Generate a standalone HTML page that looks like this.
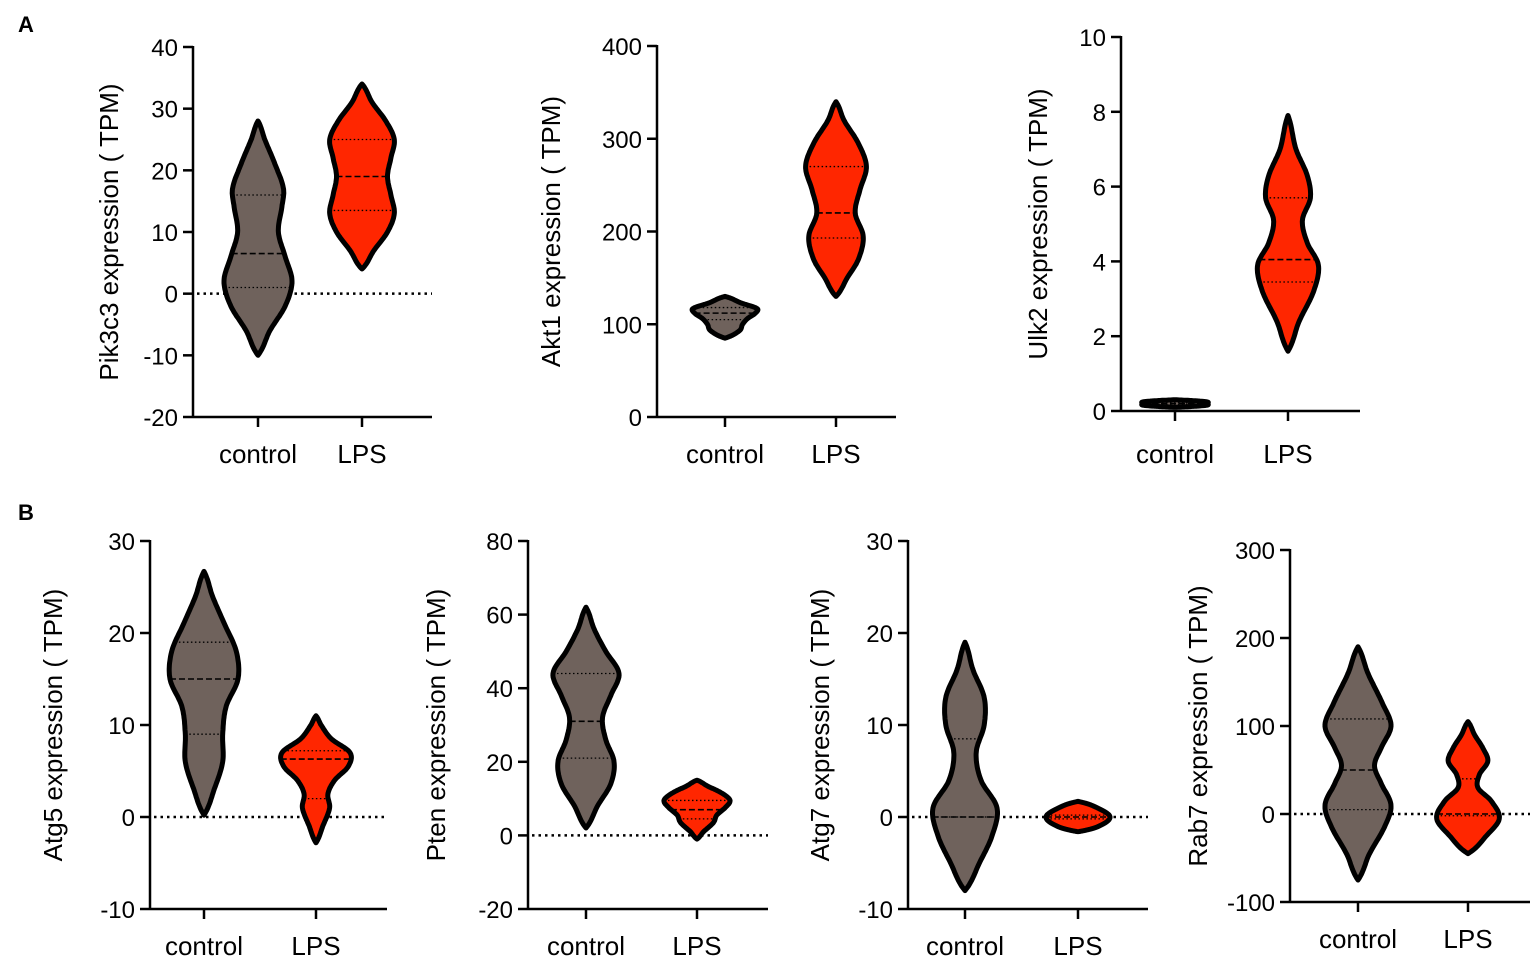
<!DOCTYPE html>
<html><head><meta charset="utf-8">
<style>
body{margin:0;background:#fff;}
svg{display:block;font-family:"Liberation Sans",Arial,sans-serif;}
</style></head>
<body>
<svg id="fig" width="1535" height="966" viewBox="0 0 1535 966">
<text x="18" y="32" font-size="22" font-weight="bold">A</text>
<text x="18" y="520" font-size="22" font-weight="bold">B</text>
</svg>
<script>
// categories
const categories = ["control", "LPS"];
// y-axis titles
const titles = ["Pik3c3 expression ( TPM)", "Akt1 expression ( TPM)", "Ulk2 expression ( TPM)",
  "Atg5 expression ( TPM)", "Pten expression ( TPM)", "Atg7 expression ( TPM)", "Rab7 expression ( TPM)"];
// tick labels
const ticks0 = [-20, -10, 0, 10, 20, 30, 40];
const ticks1 = [0, 100, 200, 300, 400];
const ticks2 = [0, 2, 4, 6, 8, 10];
const ticks3 = [-10, 0, 10, 20, 30];
const ticks4 = [-20, 0, 20, 40, 60, 80];
const ticks5 = [-10, 0, 10, 20, 30];
const ticks6 = [-100, 0, 100, 200, 300];
// violin profiles: value levels and relative density (0..1)
const v0cVals = [-10, -6, -2, 2, 6, 10, 14, 17, 21, 25, 28];
const v0cDens = [0, 0.35, 0.8, 1.0, 0.8, 0.6, 0.7, 0.75, 0.5, 0.2, 0];
const v0lVals = [4, 7, 10, 13, 16, 19, 22, 25, 28, 31, 34];
const v0lDens = [0, 0.35, 0.75, 0.95, 0.85, 0.75, 0.85, 0.95, 0.7, 0.3, 0];
const v1cVals = [85, 93, 100, 106, 112, 117, 123, 130];
const v1cDens = [0, 0.45, 0.55, 0.7, 0.95, 1.0, 0.5, 0];
const v1lVals = [130, 150, 170, 195, 220, 245, 270, 295, 320, 340];
const v1lDens = [0, 0.35, 0.7, 0.85, 0.6, 0.75, 0.95, 0.7, 0.25, 0];
const v2cVals = [0.1, 0.15, 0.2, 0.25, 0.3];
const v2cDens = [0, 0.95, 1.0, 0.95, 0];
const v2lVals = [1.6, 2.4, 3.2, 3.9, 4.5, 5.1, 5.7, 6.3, 7.0, 7.9];
const v2lDens = [0, 0.35, 0.8, 0.95, 0.6, 0.45, 0.7, 0.6, 0.25, 0];
const v3cVals = [0.2, 3, 6, 9, 12, 15, 18, 21, 24, 26.7];
const v3cDens = [0, 0.3, 0.55, 0.55, 0.65, 1.0, 0.95, 0.6, 0.25, 0];
const v3lVals = [-2.8, -1, 1, 2.5, 4, 5.5, 7, 8.5, 10, 11];
const v3lDens = [0, 0.2, 0.4, 0.35, 0.55, 0.95, 1.0, 0.45, 0.15, 0];
const v4cVals = [2, 8, 14, 20, 26, 32, 38, 44, 50, 56, 62];
const v4cDens = [0, 0.35, 0.75, 0.85, 0.6, 0.5, 0.75, 1.0, 0.6, 0.25, 0];
const v4lVals = [-1, 1, 3.5, 5.5, 7.5, 9.5, 11.5, 13.5, 15];
const v4lDens = [0, 0.2, 0.5, 0.6, 0.85, 1.0, 0.75, 0.3, 0];
const v5cVals = [-8, -5, -2, 1, 4, 7, 10, 13, 16, 19];
const v5cDens = [0, 0.45, 0.85, 1.0, 0.5, 0.35, 0.6, 0.6, 0.25, 0];
const v5lVals = [-1.6, -1, 0, 1, 1.7];
const v5lDens = [0, 0.65, 1.0, 0.6, 0];
const v6cVals = [-75, -45, -15, 10, 35, 55, 75, 100, 125, 160, 190];
const v6cDens = [0, 0.35, 0.8, 1.0, 0.7, 0.5, 0.7, 1.0, 0.75, 0.3, 0];
const v6lVals = [-45, -25, -5, 15, 30, 45, 60, 75, 90, 105];
const v6lDens = [0, 0.55, 0.95, 0.7, 0.3, 0.35, 0.6, 0.45, 0.2, 0];
// quartiles [q1, median, q3]
const q0c = [1, 6.5, 16], q0l = [13.5, 19, 25];
const q1c = [105, 112, 118], q1l = [193, 220, 270];
const q2c = [0.18, 0.2, 0.22], q2l = [3.45, 4.05, 5.7];
const q3c = [9, 15, 19], q3l = [2, 6.3, 7.2];
const q4c = [21, 31, 44], q4l = [4.5, 7, 9.5];
const q5c = [0, 0, 8.5], q5l = [-0.2, 0, 0.2];
const q6c = [5, 50, 108], q6l = [-2, 0, 40];

const GRAY = "#6f625c", RED = "#ff2600";
const NS = "http://www.w3.org/2000/svg";
const svg = document.getElementById("fig");
function mk(tag, attrs, parent) {
  const e = document.createElementNS(NS, tag);
  for (const k in attrs) e.setAttribute(k, attrs[k]);
  (parent || svg).appendChild(e);
  return e;
}
const layouts = [
  {ax:193, yTop:47, yBot:417, xEnd:432, cats:[258,362], tx:118, ticks:ticks0, zero:true, maxW:34, ly:463},
  {ax:657, yTop:46, yBot:417, xEnd:896, cats:[725,836], tx:560, ticks:ticks1, zero:false, maxW:32, ly:463},
  {ax:1121, yTop:37, yBot:411, xEnd:1360, cats:[1175,1288], tx:1047, ticks:ticks2, zero:false, maxW:32, ly:463},
  {ax:150, yTop:541, yBot:909, xEnd:387, cats:[204,316], tx:62, ticks:ticks3, zero:true, maxW:34, ly:955},
  {ax:528, yTop:541, yBot:909, xEnd:768, cats:[586,697], tx:445, ticks:ticks4, zero:true, maxW:33, ly:955},
  {ax:908, yTop:541, yBot:909, xEnd:1148, cats:[965,1078], tx:829, ticks:ticks5, zero:true, maxW:32, ly:955},
  {ax:1290, yTop:550, yBot:902, xEnd:1530, cats:[1358,1468], tx:1207, ticks:ticks6, zero:true, maxW:33, ly:948}
];
const violins = [
  [[v0cVals,v0cDens,q0c],[v0lVals,v0lDens,q0l]],
  [[v1cVals,v1cDens,q1c],[v1lVals,v1lDens,q1l]],
  [[v2cVals,v2cDens,q2c],[v2lVals,v2lDens,q2l]],
  [[v3cVals,v3cDens,q3c],[v3lVals,v3lDens,q3l]],
  [[v4cVals,v4cDens,q4c],[v4lVals,v4lDens,q4l]],
  [[v5cVals,v5cDens,q5c],[v5lVals,v5lDens,q5l]],
  [[v6cVals,v6cDens,q6c],[v6lVals,v6lDens,q6l]]
];
// Catmull-Rom interpolation of density
function interp(vals, dens, v) {
  const n = vals.length;
  if (v <= vals[0] || v >= vals[n-1]) return 0;
  for (let i = 0; i < n-1; i++) {
    if (v >= vals[i] && v <= vals[i+1]) {
      const h = vals[i+1] - vals[i];
      const t = (v - vals[i]) / h;
      const p0 = dens[i], p1 = dens[i+1];
      const m0 = i > 0 ? (dens[i+1] - dens[i-1]) / (vals[i+1] - vals[i-1]) * h : (p1 - p0) * 1.6;
      const m1 = i < n-2 ? (dens[i+2] - dens[i]) / (vals[i+2] - vals[i]) * h : (p1 - p0) * 1.6;
      const t2 = t*t, t3 = t2*t;
      const r = (2*t3 - 3*t2 + 1)*p0 + (t3 - 2*t2 + t)*m0 + (-2*t3 + 3*t2)*p1 + (t3 - t2)*m1;
      return Math.max(0, r);
    }
  }
  return 0;
}
layouts.forEach((L, p) => {
  const g = mk("g", {});
  
  
  const tmin = L.ticks[0], tmax = L.ticks[L.ticks.length-1];
  const y = v => L.yBot - (v - tmin) / (tmax - tmin) * (L.yBot - L.yTop);
  if (L.zero) {
    const z = mk("line", {x1:L.ax+4, x2:L.xEnd, y1:y(0), y2:y(0), stroke:"#000", "stroke-width":2.5, "stroke-dasharray":"2.5 4"}, g);
    
    
  }
  violins[p].forEach((vd, ci) => {
    const [vals, dens, q] = vd;
    const cx = L.cats[ci];
    const lo = vals[0], hi = vals[vals.length-1];
    const N = 120, left = [], right = [];
    for (let i = 0; i <= N; i++) {
      const v = lo + (hi - lo) * i / N;
      const w = interp(vals, dens, v) * L.maxW;
      right.push([cx + w, y(v)]);
      left.push([cx - w, y(v)]);
    }
    const pts = right.concat(left.reverse());
    const d = "M" + pts.map(pt => pt[0].toFixed(1) + "," + pt[1].toFixed(1)).join("L") + "Z";
    const path = mk("path", {d:d, fill: ci === 0 ? GRAY : RED, stroke:"#000", "stroke-width":5, "stroke-linejoin":"round"}, g);
    
    
    q.forEach((qv, qi) => {
      const w = interp(vals, dens, qv) * L.maxW;
      const ln = mk("line", {x1:cx - w, x2:cx + w, y1:y(qv), y2:y(qv), stroke:"#000", "stroke-width": qi === 1 ? 1.6 : 1.3, "stroke-dasharray": qi === 1 ? "6 3" : "1.5 2.5"}, g);
      
      
    });
  });
  const ya = mk("line", {x1:L.ax, x2:L.ax, y1:L.yTop - 1, y2:L.yBot + 1, stroke:"#000", "stroke-width":2.5}, g);
  
  
  const xa = mk("line", {x1:L.ax, x2:L.xEnd, y1:L.yBot, y2:L.yBot, stroke:"#000", "stroke-width":2.5}, g);
  
  
  L.ticks.forEach(t => {
    const tk = mk("line", {x1:L.ax - 10, x2:L.ax, y1:y(t), y2:y(t), stroke:"#000", "stroke-width":2.5}, g);
    
    
    const tl = mk("text", {x:L.ax - 15, y:y(t) + 9, "text-anchor":"end", "font-size":24}, g);
    tl.textContent = t;
    
    
  });
  categories.forEach((c, ci) => {
    const cx = L.cats[ci];
    const tk = mk("line", {x1:cx, x2:cx, y1:L.yBot, y2:L.yBot + 10, stroke:"#000", "stroke-width":2.5}, g);
    
    
    const tl = mk("text", {x:cx, y:L.ly, "text-anchor":"middle", "font-size":26}, g);
    tl.textContent = c;
    
    
  });
  const ym = (L.yTop + L.yBot) / 2;
  const tt = mk("text", {x:L.tx, y:ym, "text-anchor":"middle", "font-size":26, transform:"rotate(-90 " + L.tx + " " + ym + ")"}, g);
  tt.textContent = titles[p];
  
  
});
</script>
</body></html>
